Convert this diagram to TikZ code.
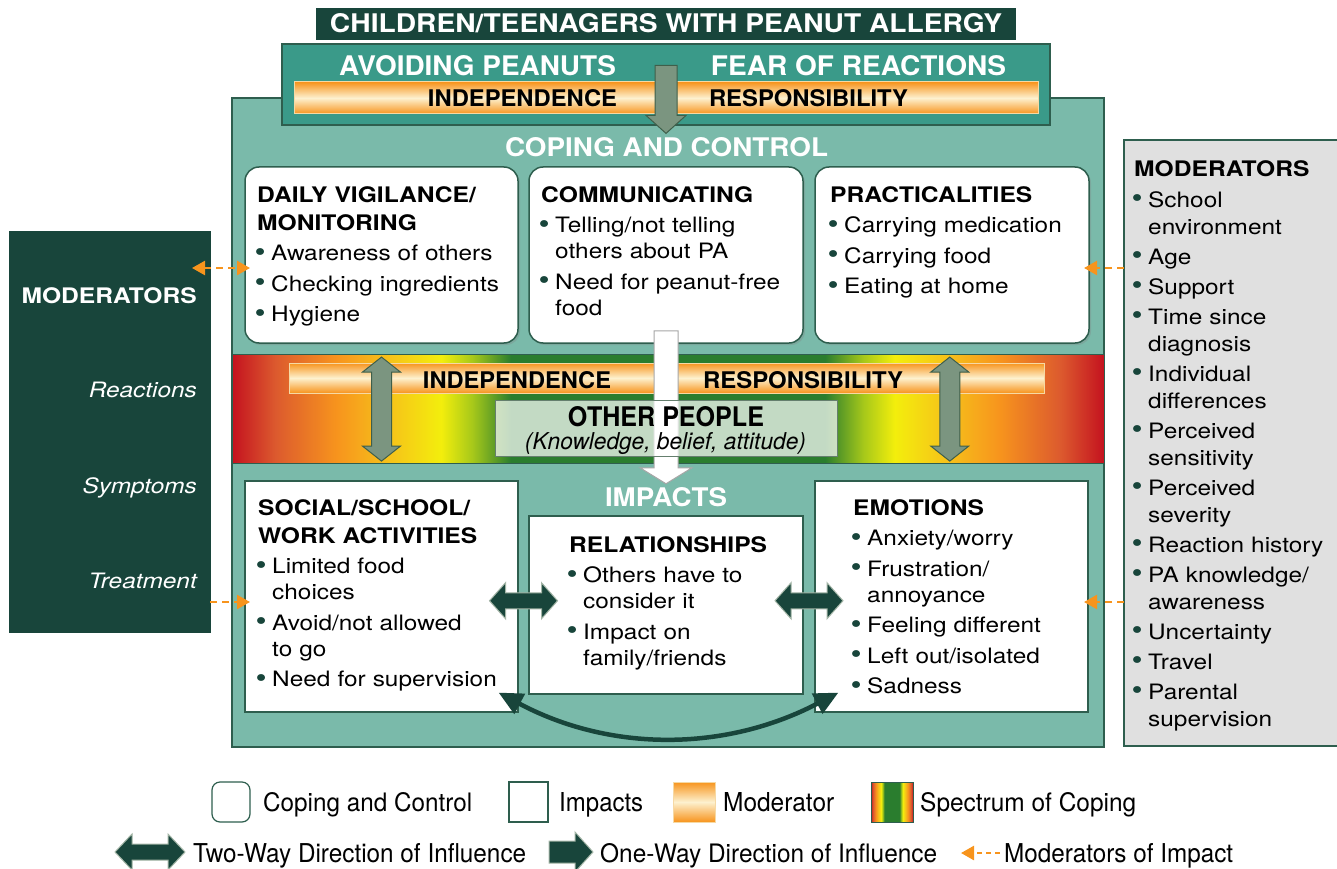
\documentclass[tikz,border=0pt]{standalone}
\usepackage{fontspec}
\setmainfont{TeX Gyre Heros}[FakeStretch=1.15]
\usepackage{graphicx}
\usetikzlibrary{shapes,positioning,arrows.meta,calc,shadows}

\definecolor{MsuGreen}{HTML}{18453B}
\definecolor{BoxEdge}{HTML}{2E5E4E}
\definecolor{TopTeal}{HTML}{3A9A89}
\definecolor{LightTeal}{HTML}{7ABAAA}
\definecolor{ArrowGray}{HTML}{7B9580}
\definecolor{ArrowEdge}{HTML}{3F5F4A}
\definecolor{BarOrange}{HTML}{F7941D}
\definecolor{BarCream}{HTML}{FDF1CF}
\definecolor{BarEdge}{HTML}{F6D9A4}
\definecolor{ModGray}{HTML}{E0E0E0}
\definecolor{DashOrange}{HTML}{F7941D}
\definecolor{SpRed}{HTML}{C4121F}
\definecolor{SpRedOr}{HTML}{DC5A2E}
\definecolor{SpOrange}{HTML}{F7941D}
\definecolor{SpOrYel}{HTML}{F6C21A}
\definecolor{SpYellow}{HTML}{F3EE0C}
\definecolor{SpYelGreen}{HTML}{A6C81A}
\definecolor{SpGreen}{HTML}{2A7D2E}

\pgfdeclarehorizontalshading{spectrum}{100bp}{color(0bp)=(SpRed); color(25bp)=(SpRed);
  color(27.5bp)=(SpRedOr); color(31bp)=(SpOrange); color(34bp)=(SpOrYel);
  color(37bp)=(SpYellow); color(38.8bp)=(SpYelGreen); color(41bp)=(SpGreen);
  color(59bp)=(SpGreen); color(61.2bp)=(SpYelGreen); color(63bp)=(SpYellow);
  color(66bp)=(SpOrYel); color(69bp)=(SpOrange); color(72.5bp)=(SpRedOr);
  color(75bp)=(SpRed); color(100bp)=(SpRed)}

% box headings and bullet items
\newcommand\hd[1]{\setlength\parskip{4.5pt}{\bfseries\fontsize{21.4}{28}\selectfont #1\par}}
\newcommand\itm[1]{\par\hangindent=14pt\hangafter=1\noindent
  \makebox[14pt][l]{\hspace{-2.5pt}\raisebox{-0.8pt}{\scalebox{1.3}{\textcolor{MsuGreen}{\textbullet}}}\hss}#1\par}
% condensed caption text, fixed width and cap height
\newcommand\cnd[3]{\resizebox{#1pt}{#2pt}{#3}}

\begin{document}
\begin{tikzpicture}[x=1pt,y=-1pt,
  copebox/.style={draw=BoxEdge,line width=1.5pt,fill=white,rounded corners=14pt,
    minimum width=273pt,minimum height=176pt,inner sep=0pt,
    drop shadow={shadow xshift=2pt,shadow yshift=-2pt,opacity=0.3}},
  impbox/.style={draw=BoxEdge,line width=1.2pt,fill=white,inner sep=0pt},
  boxtext/.style={anchor=base west,inner sep=0pt,text width=262pt,align=left,
    font=\fontsize{21.2}{26}\selectfont},
  cndtext/.style={anchor=base,inner sep=0pt},
  legtext/.style={anchor=base west,inner sep=0pt},
  sidetext/.style={anchor=base east,inner sep=0pt,text=white},
  modbar/.style={draw=BarEdge,line width=1pt,inner sep=0pt,top color=BarOrange,
    bottom color=BarOrange,middle color=BarCream},
  spectrumbox/.style={shade,shading=spectrum,inner sep=0pt},
  greyarrow/.style={fill=ArrowGray,draw=ArrowEdge,line width=1pt},
  darkarrow/.style={fill=MsuGreen,draw=ArrowGray!70!white,line width=1pt},
  modarrow/.style={DashOrange,line width=2.5pt,dash pattern=on 7pt off 5pt},
  modtip/.style={-{Triangle[length=13pt,width=14pt]}},
  curvearrow/.style={MsuGreen,line width=4.5pt,
    {Triangle[length=24pt,width=22pt]}-{Triangle[length=24pt,width=22pt]}}
]
\useasboundingbox (0,0) rectangle (1337,869);

% side panels
\node[fill=MsuGreen,minimum width=202pt,minimum height=402pt,inner sep=0pt] (modL) at (110,432) {};
\node[fill=ModGray,draw=BoxEdge,line width=1.5pt,minimum width=221pt,minimum height=606pt,inner sep=0pt] (modR) at (1234.5,443) {};

\node[sidetext,font=\bfseries\fontsize{21.4}{26}\selectfont] (modLT) at (197,303) {MODERATORS};
\node[sidetext,font=\itshape\fontsize{21.2}{26}\selectfont] (reac) at (197,397) {Reactions};
\node[sidetext,font=\itshape\fontsize{21.2}{26}\selectfont] (symp) at (197,493) {Symptoms};
\node[sidetext,font=\itshape\fontsize{21.2}{26}\selectfont] (treat) at (197,588) {Treatment};

\node[boxtext,text width=200pt,font=\fontsize{21.2}{27}\selectfont] (modRT) at (1134,177)
  {\hd{MODERATORS}\setlength\parskip{3pt}\itm{School\newline environment}\itm{Age}\itm{Support}%
   \itm{Time since\newline diagnosis}\itm{Individual\newline differences}\itm{Perceived\newline sensitivity}%
   \itm{Perceived\newline severity}\itm{Reaction history}\itm{PA knowledge/\newline awareness}%
   \itm{Uncertainty}\itm{Travel}\itm{Parental\newline supervision}};

% main frame and header
\node[fill=LightTeal,draw=BoxEdge,line width=1.2pt,minimum width=872pt,minimum height=649pt,inner sep=0pt] (frame) at (668,422.5) {};
\node[fill=TopTeal,draw=BoxEdge,line width=1.2pt,minimum width=768pt,minimum height=81pt,inner sep=0pt] (topbox) at (666,84.5) {};
\node[fill=MsuGreen,minimum width=700pt,minimum height=32pt,inner sep=0pt] (title) at (666,24) {};
\node[modbar,minimum width=744pt,minimum height=32pt] (topbar) at (666,98) {};

\node[cndtext,text=white] (titleT) at (666,33) {\cnd{672}{19}{\bfseries CHILDREN/TEENAGERS WITH PEANUT ALLERGY}};
\node[cndtext,text=white] (avoid) at (477.5,76) {\cnd{277}{20}{\bfseries AVOIDING PEANUTS}};
\node[cndtext,text=white] (fear) at (858.5,76) {\cnd{295}{20}{\bfseries FEAR OF REACTIONS}};
\node[cndtext] (indepA) at (522.5,107) {\cnd{189}{17}{\bfseries INDEPENDENCE}};
\node[cndtext] (respA) at (808.5,107) {\cnd{199}{17}{\bfseries RESPONSIBILITY}};

\filldraw[greyarrow,shift={(topbox.north)}] (-11,22) -- (11,22) -- (11,72) -- (20,72) -- (0,90) -- (-20,72) -- (-11,72) -- cycle;

\node[cndtext,text=white] (coping) at (666.5,157) {\cnd{323}{19}{\bfseries COPING AND CONTROL}};

% coping and control
\node[copebox] (daily) at (381.5,255) {};
\node[copebox,minimum width=274pt] (comm) at (666,255) {};
\node[copebox,minimum width=274pt] (pract) at (952,255) {};

\node[boxtext] (dailyT) at (257,202)
  {\hd{DAILY VIGILANCE/\newline MONITORING}\itm{Awareness of others}\itm{Checking ingredients}\itm{Hygiene}};
\node[boxtext] (commT) at (541,202)
  {\hd{COMMUNICATING}\itm{Telling/not telling\newline others about PA}\itm{Need for peanut-free\newline food}};
\node[boxtext] (practT) at (830,202)
  {\hd{PRACTICALITIES}\itm{Carrying medication}\itm{Carrying food}\itm{Eating at home}};

% impacts
\node[impbox,minimum width=273pt,minimum height=231pt] (social) at (381.5,596.5) {};
\node[impbox,minimum width=274pt,minimum height=178pt] (rel) at (666,605) {};
\node[impbox,minimum width=273pt,minimum height=231pt] (emo) at (951.5,596.5) {};

\node[boxtext] (socialT) at (258,515)
  {\hd{SOCIAL/SCHOOL/\newline WORK ACTIVITIES}\itm{Limited food\newline choices}\itm{Avoid/not allowed\newline to go}\itm{Need for supervision}};
\node[boxtext] (relT) at (569,552)
  {\hd{RELATIONSHIPS}\itm{Others have to\newline consider it}\itm{Impact on\newline family/friends}};
\node[boxtext] (emoT) at (853,515)
  {\hd{EMOTIONS}\itm{Anxiety/worry}\itm{Frustration/\newline annoyance}\itm{Feeling different}\itm{Left out/isolated}\itm{Sadness}};

\node[cndtext,text=white] (impacts) at (666,506) {\cnd{122}{19}{\bfseries IMPACTS}};

% spectrum of coping
\node[spectrumbox,draw=BoxEdge,line width=1pt,minimum width=872pt,minimum height=109pt] (band) at (668,408.5) {};
\node[modbar,minimum width=755pt,minimum height=30pt] (midbar) at (666.5,378) {};
\node[cndtext] (indepB) at (517,388) {\cnd{188}{17}{\bfseries INDEPENDENCE}};
\node[cndtext] (respB) at (803,388) {\cnd{200}{17}{\bfseries RESPONSIBILITY}};

\coordinate (vl) at ($(daily.south)!0.5!(social.north)+(0,-3)$);
\coordinate (vr) at ($(pract.south)!0.5!(emo.north)+(-2,-3)$);
\filldraw[greyarrow,shift={(vl)}] (0,-52) -- (19,-37) -- (10,-37) -- (10,37) -- (19,37) -- (0,52) -- (-19,37) -- (-10,37) -- (-10,-37) -- (-19,-37) -- cycle;
\filldraw[greyarrow,shift={(vr)}] (0,-52) -- (19,-37) -- (10,-37) -- (10,37) -- (19,37) -- (0,52) -- (-19,37) -- (-10,37) -- (-10,-37) -- (-19,-37) -- cycle;

\filldraw[fill=white,draw=gray!70,line width=1pt,shift={(comm.south)}] (-12,-13) -- (12,-13) -- (12,124) -- (26,124) -- (0,140) -- (-26,124) -- (-12,124) -- cycle;

\node[fill=white,fill opacity=0.72,draw=ArrowEdge!80,line width=1pt,minimum width=342pt,minimum height=56pt,inner sep=0pt] (other) at (666,428) {};
\node[cndtext] (otherT) at (666,426) {\cnd{196}{20}{\bfseries OTHER PEOPLE}};
\node[cndtext] (otherK) at (665.5,449) {\cnd{281}{17}{\itshape (Knowledge, belief, attitude)}};

% influence between impacts
\coordinate (tw1) at ($(social.east)!0.5!(rel.west)$);
\coordinate (tw2) at ($(rel.east)!0.5!(emo.west)$);
\filldraw[darkarrow,shift={(tw1)}] (-34,0) -- (-18,-18) -- (-18,-8) -- (18,-8) -- (18,-18) -- (34,0) -- (18,18) -- (18,8) -- (-18,8) -- (-18,18) -- cycle;
\filldraw[darkarrow,shift={(tw2)}] (-34,0) -- (-18,-18) -- (-18,-8) -- (18,-8) -- (18,-18) -- (34,0) -- (18,18) -- (18,8) -- (-18,8) -- (-18,18) -- cycle;

\coordinate (cs) at ([xshift=-20pt,yshift=20pt]social.south east);
\coordinate (ce) at ([xshift=24pt,yshift=20pt]emo.south west);
\draw[curvearrow] (cs) .. controls (610,752) and (725,752) .. (ce);

% moderators of impact
\coordinate (mL1) at (192,268);
\coordinate (mL2) at (250,268);
\coordinate (mL3) at (210,602);
\coordinate (mL4) at (250,602);
\coordinate (mR1) at (1124,268);
\coordinate (mR2) at (1084,268);
\coordinate (mR3) at (1124,602);
\coordinate (mR4) at (1084,602);
\draw[modarrow,{Triangle[length=13pt,width=14pt]}-{Triangle[length=13pt,width=14pt]}] (mL1) -- (mL2);
\draw[modarrow,modtip] (mL3) -- (mL4);
\draw[modarrow,modtip] (mR1) -- (mR2);
\draw[modarrow,modtip] (mR3) -- (mR4);

% legend
\node[draw=BoxEdge,line width=1.2pt,fill=white,rounded corners=8pt,minimum width=38pt,minimum height=40pt,inner sep=0pt] (legCC) at (231,802) {};
\node[impbox,minimum width=39pt,minimum height=40pt] (legIM) at (528.5,802) {};
\node[modbar,minimum width=42pt,minimum height=40pt] (legMO) at (694,802) {};
\node[spectrumbox,draw=BoxEdge,line width=1pt,minimum width=42pt,minimum height=40pt] (legSP) at (892,802) {};
\node[legtext] (legCCT) at (263,811) {\cnd{209}{19}{Coping and Control}};
\node[legtext] (legIMT) at (559,811) {\cnd{84}{19}{Impacts}};
\node[legtext] (legMOT) at (723,811) {\cnd{111}{19}{Moderator}};
\node[legtext] (legSPT) at (920,811) {\cnd{216}{19}{Spectrum of Coping}};

\coordinate (legTW) at (150,852);
\coordinate (legOW) at (570,852);
\coordinate (legMA1) at (1000,853);
\coordinate (legMA2) at (961,853);
\filldraw[darkarrow,shift={(legTW)}] (-35,0) -- (-18,-18) -- (-18,-8) -- (18,-8) -- (18,-18) -- (35,0) -- (18,18) -- (18,8) -- (-18,8) -- (-18,18) -- cycle;
\filldraw[darkarrow,shift={(legOW)}] (-21,-11) -- (5,-11) -- (5,-20) -- (23,0) -- (5,20) -- (5,11) -- (-21,11) -- cycle;
\draw[modarrow,dash pattern=on 5pt off 4pt,modtip] (legMA1) -- (legMA2);
\node[legtext] (legTWT) at (193,862) {\cnd{333}{19}{Two-Way Direction of Influence}};
\node[legtext] (legOWT) at (600,862) {\cnd{337}{19}{One-Way Direction of Influence}};
\node[legtext] (legMAT) at (1004,862) {\cnd{229}{19}{Moderators of Impact}};
\end{tikzpicture}
\end{document}
